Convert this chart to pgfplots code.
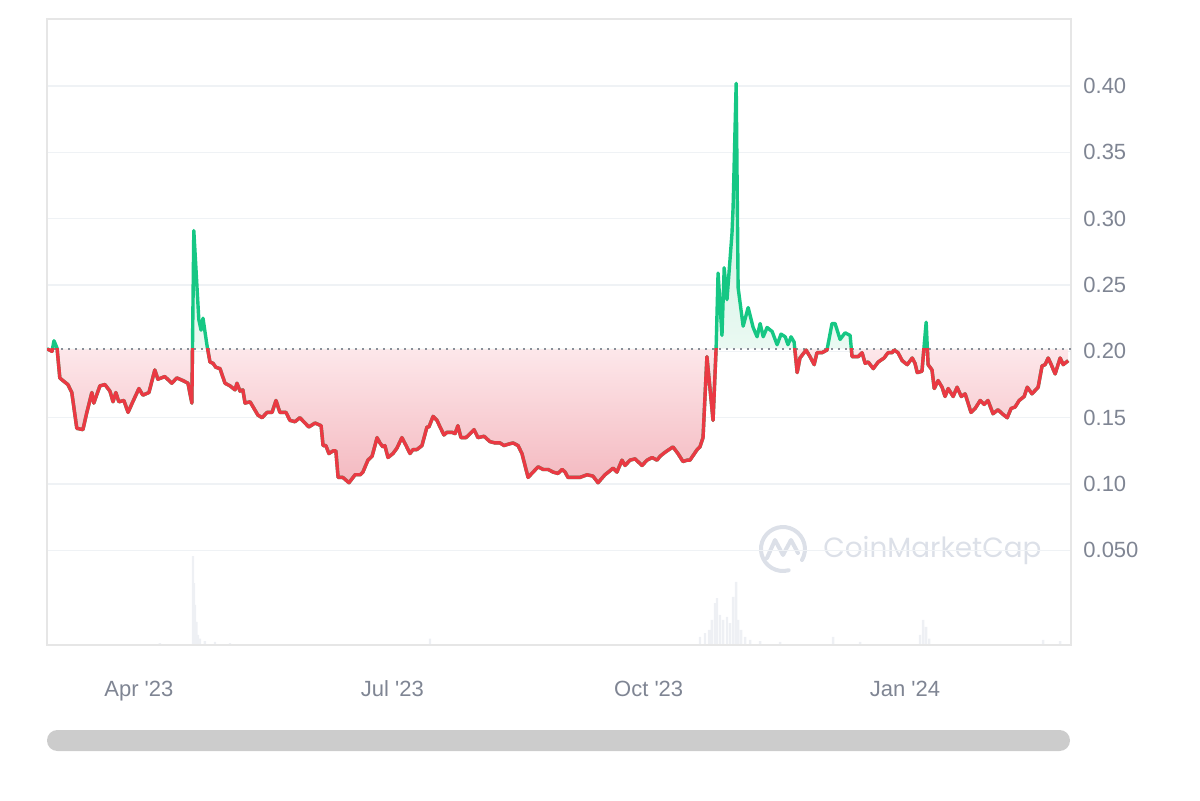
\documentclass[border=0pt]{standalone}
\usepackage{fontspec}
\setmainfont{Liberation Sans}[Ligatures=TeXOff]
\newfontfamily\wmfont{Poppins}
\usepackage{graphicx}
\usepackage{pgfplots}
\pgfplotsset{compat=1.18}
\usepackage{pgfplotstable}

\definecolor{redc}{HTML}{EA3943}
\definecolor{greenc}{HTML}{16C784}
\definecolor{redS}{HTML}{F4B9C0}
\definecolor{redL}{HTML}{FDE7EA}
\definecolor{greenL}{HTML}{EAF9F2}
\definecolor{greenS}{HTML}{BDEFD9}
\definecolor{framec}{HTML}{E6E6E6}
\definecolor{gridc}{HTML}{EFF2F5}
\definecolor{labc}{HTML}{7F8593}
\definecolor{volc}{HTML}{EEF0F4}
\definecolor{wmc}{HTML}{DCE0E8}
\definecolor{barc}{HTML}{CCCCCC}
\definecolor{dotc}{HTML}{8A8F99}

\pgfdeclareverticalshading{cmcarea}{100bp}{color(0bp)=(redS); color(25bp)=(redS); color(41.7bp)=(redL); color(41.9bp)=(greenL); color(75bp)=(greenS); color(100bp)=(greenS)}

\pgfplotstableread{
d p
-33.0 0.202
-31.2 0.200
-30.5 0.208
-29.4 0.2025
-28.4 0.180
-27.3 0.178
-25.5 0.175
-24.1 0.169
-22.3 0.142
-20.1 0.141
-18.7 0.154
-16.9 0.169
-16.2 0.161
-14.0 0.174
-12.2 0.175
-10.4 0.170
-9.3 0.162
-8.3 0.169
-7.2 0.162
-5.4 0.163
-3.9 0.154
-2.2 0.162
0.0 0.172
1.4 0.167
3.6 0.169
5.7 0.186
6.8 0.179
9.3 0.181
11.8 0.176
13.6 0.180
15.8 0.178
17.6 0.176
19.0 0.161
19.7 0.291
21.5 0.224
22.3 0.216
23.0 0.225
24.4 0.205
25.5 0.192
26.6 0.191
27.6 0.188
29.1 0.187
30.9 0.176
32.7 0.174
34.5 0.171
35.2 0.176
36.3 0.170
37.3 0.171
38.1 0.161
39.9 0.162
42.7 0.152
44.2 0.150
46.0 0.154
47.8 0.154
49.2 0.163
50.6 0.154
52.8 0.154
54.2 0.148
56.0 0.147
57.8 0.150
59.6 0.146
61.0 0.143
63.2 0.146
65.4 0.144
66.1 0.129
67.1 0.129
68.2 0.123
69.7 0.125
70.7 0.125
71.5 0.105
73.2 0.105
75.4 0.101
77.6 0.107
79.4 0.107
80.4 0.109
82.2 0.118
83.7 0.121
85.5 0.135
86.5 0.131
87.6 0.128
88.3 0.129
89.4 0.120
91.2 0.123
92.6 0.127
94.4 0.135
95.9 0.129
97.3 0.123
98.4 0.126
99.8 0.126
101.6 0.129
103.4 0.143
104.1 0.143
105.6 0.151
107.0 0.148
108.1 0.143
109.5 0.137
110.6 0.139
112.4 0.139
113.5 0.138
114.5 0.144
115.6 0.135
117.4 0.135
118.9 0.138
120.3 0.141
121.7 0.135
123.9 0.136
126.0 0.132
127.8 0.131
129.6 0.131
131.1 0.129
132.5 0.130
134.3 0.131
136.1 0.129
137.5 0.123
139.7 0.105
141.5 0.109
143.3 0.113
145.1 0.111
146.9 0.111
148.7 0.109
150.4 0.108
151.9 0.111
153.0 0.109
154.0 0.105
155.8 0.105
158.3 0.105
160.9 0.107
163.0 0.106
164.8 0.101
167.3 0.107
169.1 0.110
170.2 0.112
171.6 0.109
173.4 0.118
174.5 0.114
176.3 0.118
178.1 0.119
180.6 0.114
182.4 0.118
184.2 0.120
186.0 0.118
187.1 0.121
188.9 0.124
191.7 0.128
193.5 0.123
195.3 0.117
196.8 0.118
197.8 0.118
200.4 0.126
201.4 0.128
202.5 0.135
203.9 0.196
206.1 0.148
207.2 0.2025
207.9 0.259
209.3 0.212
210.1 0.263
211.1 0.239
212.9 0.289
213.3 0.309
214.4 0.402
215.1 0.248
216.9 0.219
218.7 0.233
220.5 0.218
221.9 0.211
223.0 0.221
224.1 0.211
225.5 0.218
227.3 0.215
229.1 0.205
230.5 0.213
232.0 0.211
233.0 0.205
234.1 0.211
235.2 0.207
236.3 0.184
237.3 0.195
239.5 0.201
240.9 0.196
242.4 0.190
243.4 0.199
245.2 0.199
247.0 0.201
248.8 0.221
249.9 0.221
251.7 0.209
253.5 0.214
255.3 0.212
256.0 0.196
258.2 0.196
259.6 0.199
260.7 0.191
261.8 0.192
263.6 0.187
265.4 0.192
267.5 0.195
268.9 0.199
270.4 0.199
271.1 0.201
272.5 0.199
274.0 0.193
275.8 0.190
277.6 0.195
278.6 0.191
279.4 0.184
281.1 0.185
282.6 0.222
283.3 0.190
284.7 0.186
285.5 0.172
286.9 0.178
288.3 0.173
289.4 0.166
290.5 0.172
292.3 0.166
293.7 0.173
295.2 0.166
296.6 0.168
298.7 0.154
300.2 0.157
302.0 0.163
303.4 0.160
304.8 0.163
306.6 0.153
308.4 0.156
309.9 0.153
311.7 0.150
313.1 0.157
314.5 0.158
316.0 0.163
317.8 0.166
318.9 0.173
320.6 0.168
322.8 0.173
324.2 0.189
325.3 0.190
326.4 0.195
327.5 0.190
328.9 0.183
330.7 0.195
331.8 0.190
333.6 0.193
}\price

\pgfplotstableread{
d v
7.5 0.3
19.4 14.2
19.7 9.9
20.1 6.4
20.6 3.7
21.2 1.6
21.9 1.0
23.7 0.6
27.3 0.5
32.7 0.3
104.5 1.0
201.4 1.3
203.2 1.9
204.7 2.4
205.7 4.0
206.8 6.7
207.5 7.5
208.6 4.8
209.7 4.0
211.1 4.5
212.2 3.5
213.3 7.7
214.4 10.1
215.1 4.0
216.2 2.4
217.6 1.3
219.4 0.8
223.0 0.6
230.2 0.5
249.2 1.3
258.9 0.5
280.4 1.6
281.5 4.0
282.6 2.9
283.7 1.0
324.6 0.8
330.7 0.6
}\volume

\begin{document}
\begin{tikzpicture}[x=1pt,y=1pt]
\useasboundingbox (0,0) rectangle (600,400);
% scrollbar
\fill[barc, rounded corners=5.2pt] (23.5,24.5) rectangle (535,35);
% watermark
\begin{scope}[wmc, line width=2pt, line cap=round, line join=round]
\draw (401.0,120.0) arc (-30:285:11);
\draw (383.5,121.0) -- (387.5,130.0) -- (391.5,122.5) -- (395.5,130.0) -- (399.0,123.5);
\end{scope}
\node[anchor=west, inner sep=0pt, text=wmc] at (411.5,124.5) {\resizebox{109pt}{!}{\wmfont CoinMarketCap}};
% volume
\begin{axis}[at={(23.5pt,77.5pt)}, anchor=south west, scale only axis,
  width=512pt, height=313pt, xmin=-33, xmax=334.6, ymin=0, ymax=100,
  axis lines=none, ticks=none]
\addplot[ybar, bar width=1.2pt, fill=volc, draw=none] table {\volume};
\end{axis}
% price
\begin{axis}[at={(23.5pt,77.5pt)}, anchor=south west, scale only axis,
  width=512pt, height=313pt,
  xmin=-33, xmax=334.6, ymin=-0.0213, ymax=0.4505,
  axis line style={draw=framec, line width=0.75pt},
  ymajorgrids, major grid style={draw=gridc, line width=0.75pt},
  ytick={0.05,0.10,0.15,0.20,0.25,0.30,0.35,0.40},
  yticklabels={0.050,0.10,0.15,0.20,0.25,0.30,0.35,0.40},
  yticklabel pos=right,
  xtick={0,91,183,275},
  xticklabels={Apr '23,Jul '23,Oct '23,Jan '24},
  major tick length=0pt,
  tick label style={font=\fontsize{11}{13}\selectfont, text=labc},
  yticklabel style={anchor=west, inner sep=0pt, xshift=6pt},
  xticklabel style={anchor=base, inner sep=0pt, yshift=-25.5pt},
  no markers]
\addplot[draw=none, shade, shading=cmcarea] table {\price} -- (axis cs:333.6,0.202) -- (axis cs:-33,0.202) -- cycle;
\addplot[dotc, line width=0.8pt, dash pattern=on 0.8pt off 2.7pt] coordinates {(-33,0.202) (334.6,0.202)};
\addplot[greenc, line width=1.7pt, line join=round] table {\price};
\begin{scope}
\clip (axis cs:-40,-0.1) rectangle (axis cs:340,0.202);
\addplot[redc, line width=1.7pt, line join=round] table {\price};
\end{scope}
\end{axis}
\end{tikzpicture}
\end{document}
